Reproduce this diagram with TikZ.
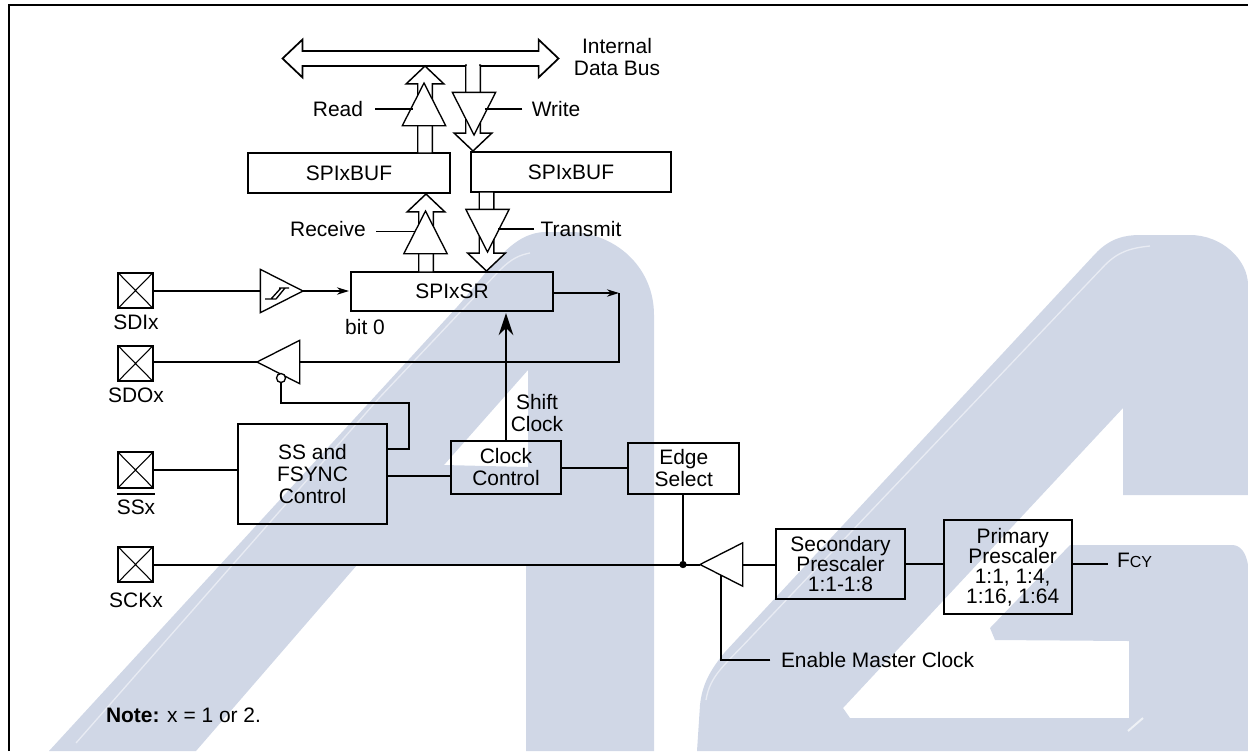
\documentclass[tikz,border=0pt]{standalone}
\usepackage{fontspec}
\setmainfont{Liberation Sans}
\usepackage{xcolor}
\usepackage{tikz}
\usetikzlibrary{shapes.geometric, shapes.arrows, arrows.meta}
\definecolor{wmark}{RGB}{208,215,230}
\tikzstyle{box} = [draw, rectangle, line width=1.5pt, inner sep=0pt, outer sep=0pt, align=center]
\tikzstyle{lbl} = [inner sep=0pt, outer sep=0pt, align=center]
\tikzstyle{wire} = [line width=1.5pt]
\tikzstyle{pad} = [draw, rectangle, line width=1.5pt, minimum width=26pt, minimum height=26.5pt, inner sep=0pt, outer sep=0pt,
  path picture={\draw[line width=0.8pt] (path picture bounding box.north west) -- (path picture bounding box.south east)
    (path picture bounding box.north east) -- (path picture bounding box.south west);}]
\tikzstyle{amp} = [draw, isosceles triangle, isosceles triangle stretches, fill=white, line width=1pt, inner sep=0pt, outer sep=0pt,
  minimum width=32.5pt, minimum height=32pt, anchor=apex]
\tikzstyle{fatarrow} = [draw, single arrow, fill=white, line width=1.1pt, inner xsep=0pt, inner ysep=4.9pt, outer sep=0pt,
  single arrow head extend=8.6pt, single arrow head indent=0pt, single arrow tip angle=93, anchor=tip]

\begin{document}
\begin{tikzpicture}[x=0.75pt, y=-0.75pt, every node/.style={font=\fontsize{15.7}{16.5}\selectfont}]
\useasboundingbox (0,0) rectangle (1248,751);

% Watermark
\fill[wmark, even odd rule] (49,751) -- (457,307) .. controls (490,270) and (510,233) .. (545,232) -- (575,232)
  .. controls (620,236) and (654,270) .. (654,315) -- (654,751) -- (526,751) -- (526,565) -- (357,565) -- (196,751) -- cycle
  (528,370) -- (444,465) -- (528,467) -- cycle;
\fill[wmark, even odd rule] (697,751) -- (700,705) .. controls (702,685) and (710,670) .. (725,652) -- (1095,254)
  .. controls (1110,238) and (1125,235) .. (1140,235) -- (1190,235) .. controls (1222,235) and (1248,260) .. (1248,285) -- (1248,751) -- cycle
  (1123,408) -- (1123,495) -- (1248,495) -- (1248,565) .. controls (1246,552) and (1240,545) .. (1232,545) -- (1070,545)
  -- (990,628) -- (995,640) -- (1129,641) -- (1129,718) -- (850,718) -- (843,708) -- cycle;
\draw[wmark!50!white, line width=1pt] (76,743) -- (380,397) -- (500,270) .. controls (512,258) and (520,255) .. (530,253);
\draw[wmark!50!white, line width=1pt] (706,700) .. controls (710,675) and (725,665) .. (752,636) -- (1105,265) .. controls (1118,252) and (1130,248) .. (1150,246);
\draw[wmark!35!white, line width=1.5pt] (1128,731) -- (1143,718);

% Frame
\draw[line width=1.5pt] (8.5,751) -- (8.5,5) -- (1248,5);

% Data bus
\node[draw, double arrow, fill=white, line width=1.3pt, inner xsep=0pt, inner ysep=4.9pt, outer sep=0pt, minimum height=207pt,
  double arrow head extend=8.6pt, double arrow head indent=0pt, double arrow tip angle=87] (bus) at (420.5,58.5) {};
\node[lbl] (buslabel) at (617,57.5) {Internal\\Data Bus};

% Registers
\node[box, minimum width=151.5pt, minimum height=30pt] (bufread) at (349,173) {SPIxBUF};
\node[box, minimum width=150pt, minimum height=30pt] (bufwrite) at (571,172) {SPIxBUF};
\node[box, minimum width=151.5pt, minimum height=29.5pt] (sr) at (452,291.5) {SPIxSR};
\node[lbl] (bitzero) at (365,327) {bit 0};

% Fat arrows
\node[fatarrow, rotate=90, minimum height=65.25pt] (readflow) at (425,66) {};
\node[fatarrow, rotate=-90, minimum height=64.5pt] (writeflow) at (473,151) {};
\node[fatarrow, rotate=90, minimum height=58.5pt] (rcvflow) at (426,194) {};
\node[fatarrow, rotate=-90, minimum height=59.25pt] (xmitflow) at (486.5,271) {};
\draw[white, line width=2.2pt, shorten <=0.8pt, shorten >=0.8pt] (writeflow.before tail) -- (writeflow.after tail);

% Buffers
\node[amp, shape border rotate=90] (readamp) at (424,83) {};
\node[amp, shape border rotate=-90] (writeamp) at (474,135) {};
\node[amp, shape border rotate=90] (rcvamp) at (425.5,211) {};
\node[amp, shape border rotate=-90] (xmitamp) at (487.5,252) {};
\node[amp] (sdiamp) at (303,291) {};
\node[amp, shape border rotate=180] (sdoamp) at (257,362) {};
\node[amp, shape border rotate=180] (sckamp) at (700,564.5) {};

% Schmitt mark
\draw[line width=1pt] (265,299) -- (276,299) (279,288) -- (289,288) (271,299) -- (281,288) (276,299) -- (285,288);

% Buffer enables
\node[lbl] (read) at (338,109) {Read};
\node[lbl] (write) at (556,109) {Write};
\node[lbl] (receive) at (328,229) {Receive};
\node[lbl] (transmit) at (581,229) {Transmit};
\draw[wire, line width=1.2pt, shorten <=9pt] (read.east) -- (read.east -| readamp.left side);
\draw[wire, line width=1.2pt, shorten <=7pt] (write.west) -- (write.west -| writeamp.left side);
\draw[wire, line width=1.2pt, shorten <=8pt] ([yshift=-2pt]receive.east) -- ([yshift=-2pt]receive.east -| rcvamp.left side);
\draw[wire, line width=1.2pt] ([xshift=-5pt]transmit.west) -- (transmit.west -| xmitamp.left side);

% Pins
\node[pad] (padsdi) at (135.5,290.5) {};
\node[pad] (padsdo) at (135.5,363.5) {};
\node[pad] (padss) at (135.5,470) {};
\node[pad] (padsck) at (135.5,564.5) {};
\node[lbl] (sdi) at (136,322) {SDIx};
\node[lbl] (sdo) at (136,395) {SDOx};
\node[lbl] (ssx) at (136,507) {SSx};
\node[lbl] (sck) at (136,600) {SCKx};
\draw[line width=1.2pt] ([yshift=4pt]ssx.north west) -- ([yshift=4pt]ssx.north east);

% Control blocks
\node[box, minimum width=111.5pt, minimum height=75pt] (ss) at (312.5,474) {SS and\\FSYNC\\Control};
\node[box, minimum width=82.5pt, minimum height=39.75pt] (clk) at (506,467.5) {Clock\\Control};
\node[box, minimum width=83.5pt, minimum height=38.25pt] (edgesel) at (683.75,468.5) {Edge\\Select};
\node[box, minimum width=96.75pt, minimum height=52.5pt] (sec) at (840.5,564) {Secondary\\[-1.5pt]Prescaler\\[-1.5pt]1:1-1:8};
\node[box, minimum width=96pt, minimum height=70.5pt] (prim) at (1008,567) {\hspace*{7pt}Primary\\[-1.5pt]\hspace*{7pt}Prescaler\\[-1.5pt]\hspace*{7pt}1:1, 1:4,\\[-1.5pt]\hspace*{7pt}1:16, 1:64};
\node[lbl, anchor=west] (fcy) at (1117,560) {F{\fontsize{12}{12}\selectfont CY}};
\node[lbl, anchor=west] (enable) at (781,660) {Enable Master Clock};
\node[lbl] (shift) at (537,413) {Shift\\Clock};
\node[draw, circle, fill=white, line width=1pt, minimum size=6.75pt, inner sep=0pt, outer sep=0pt] (bubble) at (281,378) {};
\node[draw, circle, fill=black, minimum size=5pt, inner sep=0pt, outer sep=0pt] (dot) at (683,564.5) {};
\node[lbl, anchor=west] (note) at (106,715) {\textbf{Note:} x = 1 or 2.};

% Connections
\coordinate (srturn) at (619,293);
\coordinate (oetap) at (409,449);
\coordinate (oetop) at (409,403);
\draw[wire] (sdiamp.lower side -| padsdi.east) -- (sdiamp.lower side);
\draw[wire, -{Stealth[length=9pt,width=5.5pt]}, shorten >=1.5pt] (sdiamp.apex) -- (sdiamp.apex -| sr.west);
\draw[wire, -{Stealth[length=9pt,width=5.5pt]}] (sr.east |- srturn) -- (srturn);
\draw[wire] (srturn) -- (srturn |- sdoamp.lower side) -- (sdoamp.lower side);
\draw[wire] (sdoamp.apex) -- (sdoamp.apex -| padsdo.east);
\draw[wire] (ss.east |- oetap) -- (oetap) -- (oetop) -- (bubble.south |- oetop) -- (bubble.south);
\draw[wire] (padss.east) -- (padss.east -| ss.west);
\draw[wire] ([yshift=-1.5pt]ss.east) -- ([yshift=-1.5pt]ss.east -| clk.west);
\draw[wire, -{Stealth[length=16.5pt,width=11pt]}, shorten >=1.5pt] (clk.north) -- (clk.north |- sr.south);
\draw[wire] (clk.east) -- (clk.east -| edgesel.west);
\draw[wire] (dot |- edgesel.south) -- (dot);
\draw[wire] (padsck.east) -- (sckamp.apex);
\draw[wire] (sckamp.lower side) -- (sckamp.lower side -| sec.west);
\draw[wire] (sec.east) -- (sec.east -| prim.west);
\draw[wire, shorten >=6.75pt] (sec.east -| prim.east) -- (sec.east -| fcy.west);
\draw[wire, shorten <=8pt] (enable.west) -| (sckamp.left side);

\end{tikzpicture}
\end{document}
